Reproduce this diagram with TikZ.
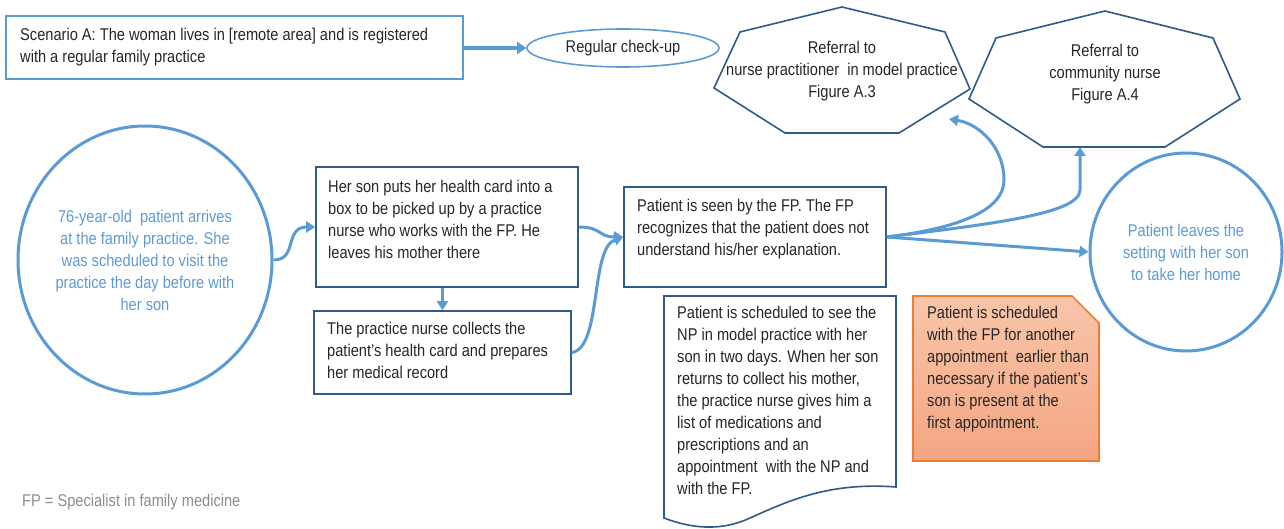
\documentclass[tikz,border=0pt]{standalone}
\usepackage{fontspec}
\setmainfont{Liberation Sans}[FakeStretch=0.86]
\usetikzlibrary{arrows.meta,shapes.geometric}
\definecolor{lb}{HTML}{5B9BD5}
\definecolor{db}{HTML}{2E5B8A}
\definecolor{txt}{HTML}{262626}
\definecolor{orb}{HTML}{ED7D31}
\definecolor{ortop}{HTML}{F8C6AA}
\definecolor{orbot}{HTML}{F4A582}
\definecolor{gr}{HTML}{8C8C8C}
\tikzset{
  every node/.style={font=\fontsize{17}{22}\selectfont, text=txt, inner sep=0pt},
  boxnode/.style={draw=db, line width=1.6pt, rectangle},
  txtl/.style={anchor=north west, align=left},
  txtc/.style={anchor=north, align=center},
  bigell/.style={ellipse, draw=lb, line width=3pt, text=lb, align=center},
  hepta/.style={draw=db, line width=1.6pt, line join=miter},
  conn/.style={draw=lb, line width=3pt, -{Triangle[length=9pt,width=11pt]}},
}
\begin{document}
\begin{tikzpicture}[x=1pt,y=-1pt]
\useasboundingbox (0,0) rectangle (1284,529);

% scenario box and check-up
\node[draw=lb, line width=2pt, rectangle, minimum width=457pt, minimum height=63pt] (scen) at (234.5,47.5) {};
\node[txtl] (scent) at (20,28) {Scenario A: The woman lives in [remote area] and is registered\\with a regular family practice};
\node[ellipse, draw=lb, line width=1.6pt, minimum width=192pt, minimum height=38pt] (chk) at (623,48) {Regular check-up};
\draw[draw=lb, line width=4pt, -{Triangle[length=9pt,width=12pt]}] (scen.east |- chk.west) -- (chk.west);

% heptagons
\draw[hepta] (842,7) -- (945,32) -- (970,89) -- (899,133) -- (785,133) -- (714,88) -- (740,32) -- cycle;
\node[txtc] (h1t) at (842,41) {Referral to\\nurse practitioner\ \ in model practice\\Figure A.3};
\coordinate (h1tip) at (949,119);
\draw[hepta] (1105,11) -- (1213,38) -- (1240,99) -- (1165,147) -- (1043,147) -- (969,99) -- (996,38) -- cycle;
\node[txtc] (h2t) at (1105,44) {Referral to\\community nurse\\Figure A.4};
\coordinate (h2tip) at (1080,147);

% big circle
\node[bigell, minimum width=254pt, minimum height=268pt] (start) at (145,260)
  {76-year-old\ \ patient arrives\\at the family practice. She\\was scheduled to visit the\\practice the day before with\\her son};

% boxes
\node[boxnode, minimum width=262pt, minimum height=120pt] (box1) at (447,227) {};
\node[txtl] (box1t) at (328,180) {Her son puts her health card into a\\box to be picked up by a practice\\nurse who works with the FP. He\\leaves his mother there};
\node[boxnode, minimum width=257pt, minimum height=83pt] (box2) at (442.5,352.5) {};
\node[txtl] (box2t) at (327,322) {The practice nurse collects the\\patient's health card and prepares\\her medical record};
\node[boxnode, minimum width=262pt, minimum height=100pt] (fp) at (755,237) {};
\node[txtl] (fpt) at (637,199) {Patient is seen by the FP. The FP\\recognizes that the patient does not\\understand his/her explanation.};

% right ellipse
\node[bigell, minimum width=192pt, minimum height=198pt] (leave) at (1186,252)
  {Patient leaves the\\setting with her son\\to take her home};

% document shape
\draw[draw=db, line width=1.6pt, fill=white] (664,296) -- (896,296) -- (896,487)
  .. controls (830,482) and (790,500) .. (750,518)
  .. controls (720,532) and (690,528) .. (664,518) -- cycle;
\node[txtl] (doct) at (677,306) {Patient is scheduled to see the\\NP in model practice with her\\son in two days. When her son\\returns to collect his mother,\\the practice nurse gives him a\\list of medications and\\prescriptions and an\\appointment\ \ with the NP and\\with the FP.};

% orange snipped box
\path[draw=orb, line width=1.6pt, top color=ortop, bottom color=orbot] (913,296) -- (1072,296) -- (1099,323) -- (1099,461) -- (913,461) -- cycle;
\node[txtl] (ort) at (927,306) {Patient is scheduled\\with the FP for another\\appointment\ \ earlier than\\necessary if the patient's\\son is present at the\\first appointment.};

% footnote
\node[anchor=north west, text=gr] (foot) at (22,494) {FP = Specialist in family medicine};

% connectors
\draw[conn] (start.east) .. controls (298,260) and (284,227) .. (box1.west);
\draw[conn] (box2.north |- box1.south) -- (box2.north);
\draw[conn] (box1.east) .. controls (602,227) and (598,237) .. (fp.west);
\draw[conn] (box2.east) .. controls (602,348) and (590,248) .. (fp.west);
\draw[conn] (fp.east) .. controls (960,228) and (1004,210) .. (1004,180) .. controls (1004,148) and (980,124) .. (h1tip);
\draw[conn] (fp.east) .. controls (990,224) and (1080,214) .. (1080,190) -- (h2tip);
\draw[conn] (fp.east) -- (leave.west);
\end{tikzpicture}
\end{document}
